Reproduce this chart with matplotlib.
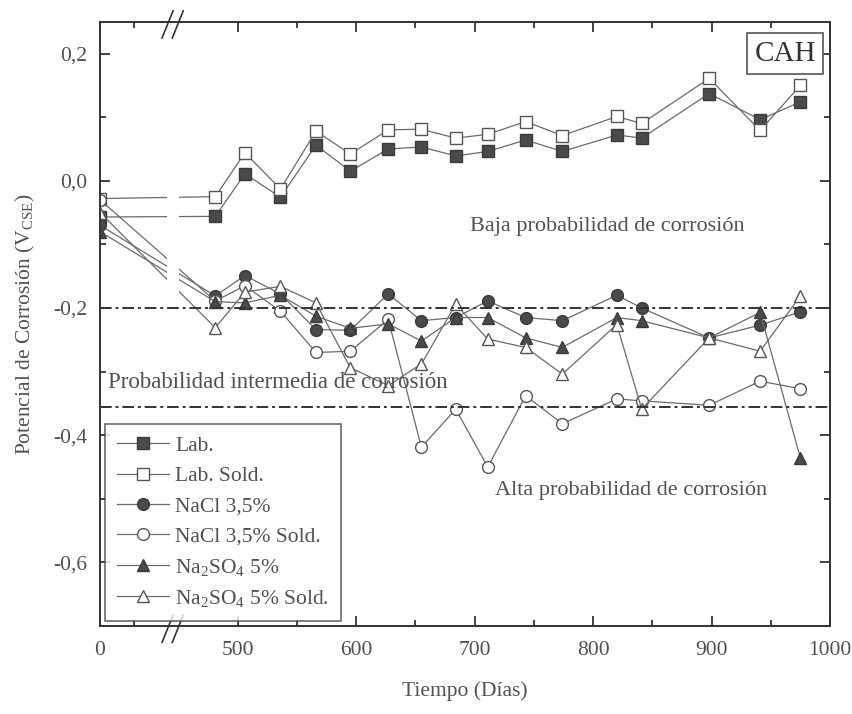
import numpy as np
import matplotlib
matplotlib.use("Agg")
import matplotlib.pyplot as plt
from matplotlib.ticker import FixedLocator, FixedFormatter

plt.rcParams['font.family'] = ['Liberation Serif', 'DejaVu Serif']
plt.rcParams['mathtext.default'] = 'regular'

# tiempo (dias) y potenciales (V_CSE)
days = [0, 481, 506, 536, 566, 595, 627, 655, 684, 711, 743, 774, 820, 841, 898, 941, 975]
lab = [-0.057, -0.056, 0.011, -0.026, 0.056, 0.015, 0.050, 0.053, 0.039, 0.046,
       0.064, 0.046, 0.072, 0.067, 0.137, 0.096, 0.124]
lab_sold = [-0.028, -0.025, 0.044, -0.013, 0.078, 0.042, 0.080, 0.081, 0.067, 0.073,
            0.093, 0.071, 0.101, 0.090, 0.161, 0.079, 0.150]
nacl = [-0.070, -0.181, -0.149, -0.178, -0.234, -0.235, -0.178, -0.220, -0.215, -0.189,
        -0.215, -0.220, -0.180, -0.200, -0.247, -0.227, -0.206]
nacl_sold = [-0.030, -0.189, -0.165, -0.205, -0.270, -0.268, -0.218, -0.419, -0.359, -0.450,
             -0.338, -0.382, -0.343, -0.346, -0.353, -0.315, -0.327]
na2so4 = [-0.080, -0.190, -0.192, -0.180, -0.213, -0.232, -0.225, -0.252, -0.215, -0.215,
          -0.247, -0.262, -0.215, -0.220, -0.247, -0.207, -0.436]
na2so4_sold = [-0.050, -0.231, -0.175, -0.166, -0.192, -0.294, -0.322, -0.288, -0.194, -0.249,
               -0.262, -0.304, -0.226, -0.359, -0.247, -0.268, -0.181]

labels = ['Lab.', 'Lab. Sold.', 'NaCl 3,5%', 'NaCl 3,5% Sold.',
          'Na$_2$SO$_4$ 5%', 'Na$_2$SO$_4$ 5% Sold.']
limits = [-0.2, -0.355]

xticks = [0, 500, 600, 700, 800, 900, 1000]
xminor = [50, 550, 650, 750, 850, 950]
yticks = [-0.6, -0.4, -0.2, 0.0, 0.2]
yminor = [-0.7, -0.5, -0.3, -0.1, 0.1]

# eje x cortado: 0-100 comprimido, hueco 100-450, 450-1000 normal
brk_in = np.array([0, 100, 450, 1000])
brk_out = np.array([0, 67, 78.5, 729.2])


def fwd(t):
    t = np.asarray(t, dtype=float)
    return np.where(t < 0, t * 0.67, np.where(t > 1000, 729.2 + (t - 1000) * 1.183,
                                              np.interp(t, brk_in, brk_out)))


def inv(p):
    p = np.asarray(p, dtype=float)
    return np.where(p < 0, p / 0.67, np.where(p > 729.2, 1000 + (p - 729.2) / 1.183,
                                              np.interp(p, brk_out, brk_in)))


fig = plt.figure(figsize=(8.52, 7.14), dpi=100)
ax = fig.add_axes([0.1174, 0.1232, 0.8568, 0.8464])
ax.set_xscale('function', functions=(fwd, inv))

line_c = '#6a6a6a'
fill_c = '#4a4a4a'
edge_c = '#3a3a3a'
open_e = '#555555'
txt_c = '#505050'
fs = 15.5

series = [lab, lab_sold, nacl, nacl_sold, na2so4, na2so4_sold]
markers = ['s', 's', 'o', 'o', '^', '^']
filled = [True, False, True, False, True, False]
for vals, m, f, lbl in zip(series, markers, filled, labels):
    ax.plot(days, vals, color=line_c, lw=0.9, marker=m, markersize=8.5,
            markerfacecolor=fill_c if f else 'white',
            markeredgecolor=edge_c if f else open_e, markeredgewidth=1.0,
            label=lbl, zorder=2)

# hueco del corte
ax.axvspan(100, 450, color='white', lw=0, zorder=2.3)

for y in limits:
    ax.axhline(y, color='#333333', lw=1.4, ls=(0, (6, 2, 1.5, 2)), zorder=2.4)

ax.set_xlim(0, 1000)
ax.set_ylim(-0.7, 0.25)

ax.xaxis.set_major_locator(FixedLocator(xticks))
ax.xaxis.set_major_formatter(FixedFormatter([str(t) for t in xticks]))
ax.xaxis.set_minor_locator(FixedLocator(xminor))
ax.yaxis.set_major_locator(FixedLocator(yticks))
ax.yaxis.set_major_formatter(FixedFormatter([f'{v:.1f}'.replace('.', ',') for v in yticks]))
ax.yaxis.set_minor_locator(FixedLocator(yminor))
ax.tick_params(which='both', direction='in', top=True, right=True, colors='#333333',
               labelcolor=txt_c, labelsize=fs, width=1.3)
ax.tick_params(which='major', length=7, pad=11)
ax.tick_params(which='minor', length=4)
ax.tick_params(axis='y', which='major', pad=9)
for s in ax.spines.values():
    s.set_color('#333333')
    s.set_linewidth(1.4)

ax.set_xlabel('Tiempo (Días)', fontsize=fs, color=txt_c, labelpad=15)
ax.set_ylabel('Potencial de Corrosión (V$_{CSE}$)', fontsize=fs, color=txt_c, labelpad=12)

ax.text(812, -0.072, 'Baja probabilidad de corrosión', fontsize=16, color=txt_c,
        ha='center', va='center')
ax.text(12, -0.317, 'Probabilidad intermedia de corrosión', fontsize=16.5, color=txt_c,
        ha='left', va='center', zorder=3)
ax.text(832, -0.487, 'Alta probabilidad de corrosión', fontsize=16, color=txt_c,
        ha='center', va='center')
ax.text(962, 0.2, 'CAH', fontsize=21, color='#333333', ha='center',
        va='center', bbox=dict(boxstyle='square,pad=0.25', fc='white', ec='#555555', lw=1.2))

# marcas del corte (//)
for dx in (0.0, 0.014):
    for yb in (0.0, 1.0):
        ax.plot([0.085 + dx, 0.1 + dx], [yb - 0.027, yb + 0.018], transform=ax.transAxes,
                color='#333333', lw=1.2, clip_on=False, zorder=5)

leg = ax.legend(loc='lower left', fontsize=fs, frameon=True, fancybox=False,
                edgecolor='#444444', borderaxespad=0.25, handlelength=2.4,
                handletextpad=0.3, labelspacing=0.47, borderpad=0.55)
leg.get_frame().set_linewidth(1.2)
for t in leg.get_texts():
    t.set_color(txt_c)

fig.savefig('out.png', dpi=100)
